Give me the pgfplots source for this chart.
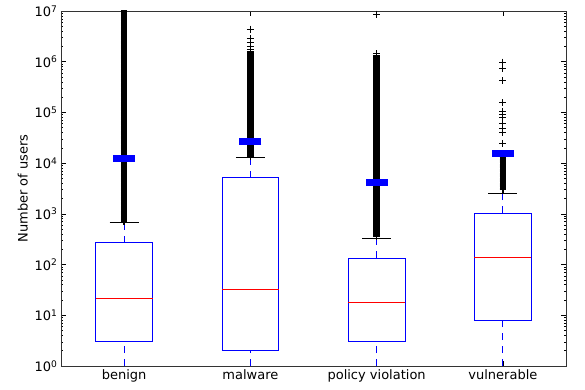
\documentclass[border=0pt]{standalone}
\usepackage{fontspec}
\setmainfont{DejaVu Sans}
\usepackage{pgfplots}
\pgfplotsset{compat=1.18}
\pgfplotsset{
  boxs/.style={blue, line width=0.8pt, solid},
  meds/.style={red, line width=0.8pt, solid},
  whis/.style={blue, line width=0.8pt, dash pattern=on 7pt off 6pt},
  caps/.style={black, line width=0.8pt, solid},
  outs/.style={only marks, mark=+, mark size=3.3pt, mark options={black, solid, line width=1.5pt}},
  outsp/.style={only marks, mark=+, mark size=3.5pt, mark options={black, solid, line width=0.9pt}},
}
\begin{document}
\begin{tikzpicture}
\begin{axis}[
  name=ax,
  scale only axis,
  width=505pt, height=355pt,
  ymode=log,
  ymin=1, ymax=1e7,
  xmin=0.5, xmax=4.5,
  ytick={1,10,100,1000,10000,100000,1000000,10000000},
  yticklabels={10\textsuperscript{0},10\textsuperscript{1},10\textsuperscript{2},10\textsuperscript{3},10\textsuperscript{4},10\textsuperscript{5},10\textsuperscript{6},10\textsuperscript{7}},
  minor ytick={2,3,4,5,6,7,8,9,20,30,40,50,60,70,80,90,200,300,400,500,600,700,800,900,2000,3000,4000,5000,6000,7000,8000,9000,2e4,3e4,4e4,5e4,6e4,7e4,8e4,9e4,2e5,3e5,4e5,5e5,6e5,7e5,8e5,9e5,2e6,3e6,4e6,5e6,6e6,7e6,8e6,9e6},
  xtick={1,2,3,4},
  xticklabels={benign, malware, policy violation, vulnerable},
  tick align=inside, xtick pos=both, ytick pos=both,
  major tick length=5pt, minor tick length=2.5pt,
  every tick/.style={black, line width=0.6pt},
  axis line style={line width=0.8pt, black!80},
  tick label style={font=\fontsize{13}{15}\selectfont},
  label style={font=\fontsize{13}{15}\selectfont},
  ylabel={Number of users},
  clip marker paths=true,
]
% ---- benign (x=1)
\addplot[whis] coordinates {(1,1) (1,3)};
\addplot[whis] coordinates {(1,270) (1,670)};
\addplot[caps] coordinates {(0.885,670) (1.115,670)};
\addplot[boxs] coordinates {(0.775,3) (1.225,3) (1.225,270) (0.775,270) (0.775,3)};
\addplot[meds] coordinates {(0.775,22) (1.225,22)};
% ---- malware (x=2)
\addplot[whis] coordinates {(2,1) (2,2.04)};
\addplot[whis] coordinates {(2,5150) (2,12800)};
\addplot[caps] coordinates {(1.885,12800) (2.115,12800)};
\addplot[boxs] coordinates {(1.775,2.04) (2.225,2.04) (2.225,5150) (1.775,5150) (1.775,2.04)};
\addplot[meds] coordinates {(1.775,33) (2.225,33)};
% ---- policy violation (x=3)
\addplot[whis] coordinates {(3,1) (3,3)};
\addplot[whis] coordinates {(3,135) (3,330)};
\addplot[caps] coordinates {(2.885,330) (3.115,330)};
\addplot[boxs] coordinates {(2.775,3) (3.225,3) (3.225,135) (2.775,135) (2.775,3)};
\addplot[meds] coordinates {(2.775,18) (3.225,18)};
% ---- vulnerable (x=4)
\addplot[whis] coordinates {(4,1) (4,8.1)};
\addplot[whis] coordinates {(4,1030) (4,2560)};
\addplot[caps] coordinates {(3.885,2560) (4.115,2560)};
\addplot[boxs] coordinates {(3.775,8.1) (4.225,8.1) (4.225,1030) (3.775,1030) (3.775,8.1)};
\addplot[meds] coordinates {(3.775,141) (4.225,141)};
% ---- outliers (dense runs)
\addplot[outs] table[row sep=\\, x expr=1, y index=0] {data\\
7.08e2\\7.50e2\\7.94e2\\8.41e2\\8.91e2\\9.44e2\\
1.00e3\\1.06e3\\1.12e3\\1.19e3\\1.26e3\\1.33e3\\1.41e3\\1.50e3\\1.58e3\\1.68e3\\1.78e3\\1.88e3\\2.00e3\\2.11e3\\2.24e3\\2.37e3\\2.51e3\\2.66e3\\2.82e3\\2.99e3\\3.16e3\\3.35e3\\3.55e3\\3.76e3\\3.98e3\\4.22e3\\4.47e3\\4.73e3\\5.01e3\\5.31e3\\5.62e3\\5.96e3\\6.31e3\\6.68e3\\7.08e3\\7.50e3\\7.94e3\\8.41e3\\8.91e3\\9.44e3\\
1.00e4\\1.06e4\\1.12e4\\1.19e4\\1.26e4\\1.33e4\\1.41e4\\1.50e4\\1.58e4\\1.68e4\\1.78e4\\1.88e4\\2.00e4\\2.11e4\\2.24e4\\2.37e4\\2.51e4\\2.66e4\\2.82e4\\2.99e4\\3.16e4\\3.35e4\\3.55e4\\3.76e4\\3.98e4\\4.22e4\\4.47e4\\4.73e4\\5.01e4\\5.31e4\\5.62e4\\5.96e4\\6.31e4\\6.68e4\\7.08e4\\7.50e4\\7.94e4\\8.41e4\\8.91e4\\9.44e4\\
1.00e5\\1.06e5\\1.12e5\\1.19e5\\1.26e5\\1.33e5\\1.41e5\\1.50e5\\1.58e5\\1.68e5\\1.78e5\\1.88e5\\2.00e5\\2.11e5\\2.24e5\\2.37e5\\2.51e5\\2.66e5\\2.82e5\\2.99e5\\3.16e5\\3.35e5\\3.55e5\\3.76e5\\3.98e5\\4.22e5\\4.47e5\\4.73e5\\5.01e5\\5.31e5\\5.62e5\\5.96e5\\6.31e5\\6.68e5\\7.08e5\\7.50e5\\7.94e5\\8.41e5\\8.91e5\\9.44e5\\
1.00e6\\1.06e6\\1.12e6\\1.19e6\\1.26e6\\1.33e6\\1.41e6\\1.50e6\\1.58e6\\1.68e6\\1.78e6\\1.88e6\\2.00e6\\2.11e6\\2.24e6\\2.37e6\\2.51e6\\2.66e6\\2.82e6\\2.99e6\\3.16e6\\3.35e6\\3.55e6\\3.76e6\\3.98e6\\4.22e6\\4.47e6\\4.73e6\\5.01e6\\5.31e6\\5.62e6\\5.96e6\\6.31e6\\6.68e6\\7.08e6\\7.50e6\\7.94e6\\8.41e6\\8.91e6\\9.44e6\\
1.00e7\\
};
\addplot[outs] table[row sep=\\, x expr=2, y index=0] {data\\
1.33e4\\1.41e4\\1.50e4\\1.58e4\\1.68e4\\1.78e4\\1.88e4\\2.00e4\\2.11e4\\2.24e4\\2.37e4\\2.51e4\\2.66e4\\2.82e4\\2.99e4\\3.16e4\\3.35e4\\3.55e4\\3.76e4\\3.98e4\\4.22e4\\4.47e4\\4.73e4\\5.01e4\\5.31e4\\5.62e4\\5.96e4\\6.31e4\\6.68e4\\7.08e4\\7.50e4\\7.94e4\\8.41e4\\8.91e4\\9.44e4\\
1.00e5\\1.06e5\\1.12e5\\1.19e5\\1.26e5\\1.33e5\\1.41e5\\1.50e5\\1.58e5\\1.68e5\\1.78e5\\1.88e5\\2.00e5\\2.11e5\\2.24e5\\2.37e5\\2.51e5\\2.66e5\\2.82e5\\2.99e5\\3.16e5\\3.35e5\\3.55e5\\3.76e5\\3.98e5\\4.22e5\\4.47e5\\4.73e5\\5.01e5\\5.31e5\\5.62e5\\5.96e5\\6.31e5\\6.68e5\\7.08e5\\7.50e5\\7.94e5\\8.41e5\\8.91e5\\9.44e5\\
1.00e6\\1.06e6\\1.12e6\\1.19e6\\1.26e6\\1.33e6\\1.41e6\\1.50e6\\1.58e6\\
};
\addplot[outs] table[row sep=\\, x expr=3, y index=0] {data\\
3.55e2\\3.76e2\\3.98e2\\4.22e2\\4.47e2\\4.73e2\\5.01e2\\5.31e2\\5.62e2\\5.96e2\\6.31e2\\6.68e2\\7.08e2\\7.50e2\\7.94e2\\8.41e2\\8.91e2\\9.44e2\\
1.00e3\\1.06e3\\1.12e3\\1.19e3\\1.26e3\\1.33e3\\1.41e3\\1.50e3\\1.58e3\\1.68e3\\1.78e3\\1.88e3\\2.00e3\\2.11e3\\2.24e3\\2.37e3\\2.51e3\\2.66e3\\2.82e3\\2.99e3\\3.16e3\\3.35e3\\3.55e3\\3.76e3\\3.98e3\\4.22e3\\4.47e3\\4.73e3\\5.01e3\\5.31e3\\5.62e3\\5.96e3\\6.31e3\\6.68e3\\7.08e3\\7.50e3\\7.94e3\\8.41e3\\8.91e3\\9.44e3\\
1.00e4\\1.06e4\\1.12e4\\1.19e4\\1.26e4\\1.33e4\\1.41e4\\1.50e4\\1.58e4\\1.68e4\\1.78e4\\1.88e4\\2.00e4\\2.11e4\\2.24e4\\2.37e4\\2.51e4\\2.66e4\\2.82e4\\2.99e4\\3.16e4\\3.35e4\\3.55e4\\3.76e4\\3.98e4\\4.22e4\\4.47e4\\4.73e4\\5.01e4\\5.31e4\\5.62e4\\5.96e4\\6.31e4\\6.68e4\\7.08e4\\7.50e4\\7.94e4\\8.41e4\\8.91e4\\9.44e4\\
1.00e5\\1.06e5\\1.12e5\\1.19e5\\1.26e5\\1.33e5\\1.41e5\\1.50e5\\1.58e5\\1.68e5\\1.78e5\\1.88e5\\2.00e5\\2.11e5\\2.24e5\\2.37e5\\2.51e5\\2.66e5\\2.82e5\\2.99e5\\3.16e5\\3.35e5\\3.55e5\\3.76e5\\3.98e5\\4.22e5\\4.47e5\\4.73e5\\5.01e5\\5.31e5\\5.62e5\\5.96e5\\6.31e5\\6.68e5\\7.08e5\\7.50e5\\7.94e5\\8.41e5\\8.91e5\\9.44e5\\
1.00e6\\1.06e6\\1.12e6\\1.19e6\\1.26e6\\
};
\addplot[outs] table[row sep=\\, x expr=4, y index=0] {data\\
2.99e3\\3.16e3\\3.35e3\\3.55e3\\3.76e3\\3.98e3\\4.22e3\\4.47e3\\4.73e3\\5.01e3\\5.31e3\\5.62e3\\5.96e3\\6.31e3\\6.68e3\\7.08e3\\7.50e3\\7.94e3\\8.41e3\\8.91e3\\9.44e3\\
1.00e4\\1.06e4\\1.12e4\\1.19e4\\1.26e4\\
};
% ---- outliers (sparse)
\addplot[outsp] table[row sep=\\, x expr=2, y index=0] {data\\
1.75e6\\2.00e6\\2.40e6\\2.90e6\\4.40e6\\
};
\addplot[outsp] table[row sep=\\, x expr=3, y index=0] {data\\
1.33e6\\1.45e6\\8.70e6\\
};
\addplot[outsp] table[row sep=\\, x expr=4, y index=0] {data\\
1.56e4\\2.46e4\\4.00e4\\4.90e4\\6.10e4\\8.10e4\\9.20e4\\1.04e5\\1.56e5\\4.20e5\\7.20e5\\9.80e5\\
};
% ---- means
\addplot[only marks, mark=-, mark size=11pt, mark options={blue, line width=7pt, solid}]
coordinates {(1,1.25e4) (2,2.7e4) (3,4.2e3) (4,1.56e4)};
\end{axis}
\pgfresetboundingbox
\path[use as bounding box] ([xshift=-61pt,yshift=-24pt]ax.south west) rectangle ([xshift=19pt,yshift=11pt]ax.north east);
\end{tikzpicture}
\end{document}
